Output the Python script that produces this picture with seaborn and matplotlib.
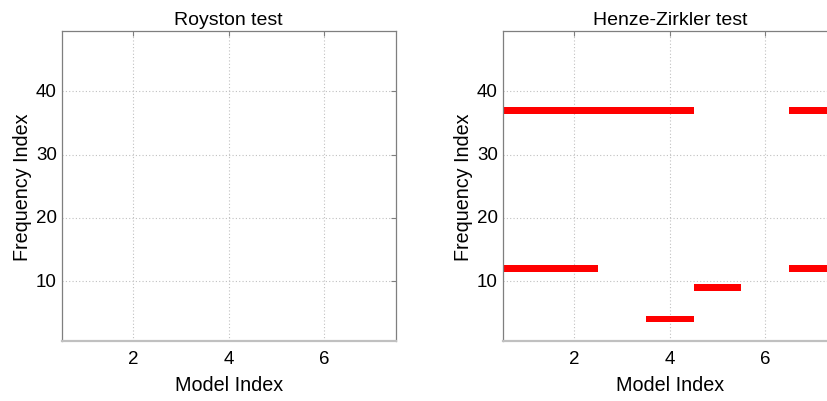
import numpy as np
import pandas as pd
import matplotlib
matplotlib.use("Agg")
import matplotlib.pyplot as plt
from matplotlib.colors import ListedColormap
import seaborn as sns

# Axes of the significance maps
models = [1, 2, 3, 4, 5, 6, 7]
frequencies = list(range(1, 50))

# Rejections of the normality hypothesis: (frequency index, model index)
royston_hits = []
henze_zirkler_hits = [
    (37, 1), (37, 2), (37, 3), (37, 4), (37, 7),
    (12, 1), (12, 2), (12, 7),
    (9, 5),
    (4, 4),
]

titles = ["Royston test", "Henze-Zirkler test"]
x_ticks = [2, 4, 6]
y_ticks = [10, 20, 30, 40]


def hit_table(hits):
    table = pd.DataFrame(0, index=frequencies, columns=models)
    for f, m in hits:
        table.loc[f, m] = 1
    return table


sns.set_theme(style="white")
plt.rcParams["font.family"] = ["Liberation Sans", "DejaVu Sans"]
plt.rcParams["text.color"] = "black"
plt.rcParams["axes.labelcolor"] = "black"

fig = plt.figure(figsize=(8.27, 4.02), dpi=100)
axes = [
    fig.add_axes([0.0746, 0.1485, 0.4041, 0.7711]),
    fig.add_axes([0.6079, 0.1485, 0.4041, 0.7711]),
]

red_map = ListedColormap(["#ff0000"])
for ax, title, hits in zip(axes, titles, [royston_hits, henze_zirkler_hits]):
    table = hit_table(hits)
    sns.heatmap(table, ax=ax, mask=(table == 0), cmap=red_map, vmin=0, vmax=1,
                cbar=False, linewidths=0)
    ax.invert_yaxis()
    ax.set_xlim(0, len(models))
    ax.set_ylim(0, len(frequencies))

    ax.set_xticks([models.index(m) + 0.5 for m in x_ticks])
    ax.set_xticklabels([str(m) for m in x_ticks], rotation=0)
    ax.set_yticks([frequencies.index(f) + 0.5 for f in y_ticks])
    ax.set_yticklabels([str(f) for f in y_ticks], rotation=0)

    ax.set_axisbelow(True)
    ax.grid(True, color="#c0c0c0", linestyle=(0, (1, 2)), linewidth=0.8)
    ax.tick_params(direction="in", top=True, right=True, length=3.5,
                   width=0.8, color="#7f7f7f", labelsize=13.5,
                   labelcolor="black")
    ax.tick_params(axis="x", pad=6)
    ax.tick_params(axis="y", pad=3.5)
    for name, spine in ax.spines.items():
        spine.set_visible(True)
        spine.set_color("#7f7f7f")
        spine.set_linewidth(0.9)
    ax.spines["bottom"].set_color("#c0c0c0")
    ax.spines["bottom"].set_linewidth(1.6)

    ax.set_title(title, fontsize=14, pad=5.5)
    ax.set_xlabel("Model Index", fontsize=14.2, labelpad=6)
    ax.set_ylabel("Frequency Index", fontsize=14.2, labelpad=3)

fig.savefig("out.png", dpi=100, facecolor="white")
